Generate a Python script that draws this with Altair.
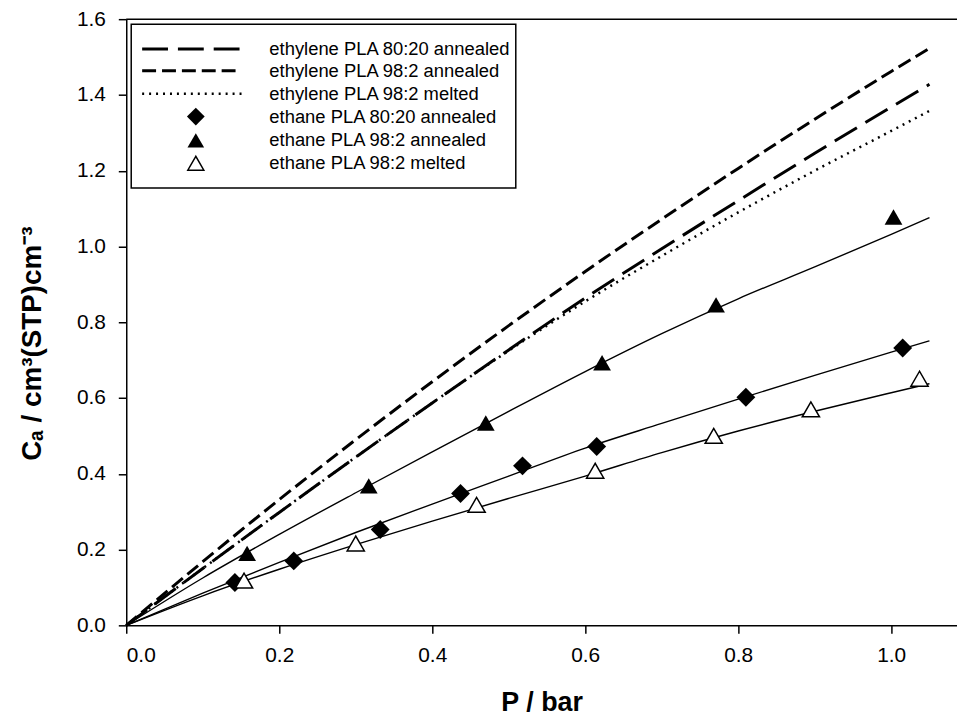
import altair as alt
import pandas as pd

FONT = "Liberation Sans"

# ---- data ----
# grid of pressures (bar) for the fitted / model curves
curve_p = [0.0, 0.1, 0.2, 0.3, 0.4, 0.5, 0.6, 0.7, 0.8, 0.9, 1.0, 1.05]

# ethylene model curves (no markers)
ethylene_80_20_annealed = [0.0, 0.150, 0.298, 0.444, 0.587, 0.727, 0.864, 0.994, 1.121, 1.246, 1.368, 1.428]
ethylene_98_2_annealed = [0.0, 0.168, 0.332, 0.490, 0.643, 0.791, 0.934, 1.072, 1.206, 1.336, 1.462, 1.523]
ethylene_98_2_melted = [0.0, 0.150, 0.298, 0.444, 0.587, 0.725, 0.855, 0.975, 1.090, 1.200, 1.305, 1.358]

# ethane fitted curves (solid thin lines)
fit_ethane_80_20_annealed = [0.0, 0.085, 0.166, 0.245, 0.320, 0.394, 0.468, 0.533, 0.597, 0.660, 0.721, 0.751]
fit_ethane_98_2_annealed = [0.0, 0.125, 0.240, 0.350, 0.458, 0.565, 0.670, 0.770, 0.862, 0.946, 1.032, 1.076]
fit_ethane_98_2_melted = [0.0, 0.078, 0.148, 0.213, 0.275, 0.335, 0.394, 0.456, 0.513, 0.565, 0.614, 0.638]

# ethane measured points
ethane_80_20_annealed_p = [0.142, 0.219, 0.332, 0.437, 0.518, 0.615, 0.810, 1.015]
ethane_80_20_annealed_c = [0.113, 0.170, 0.253, 0.348, 0.421, 0.472, 0.602, 0.732]
ethane_98_2_annealed_p = [0.158, 0.317, 0.470, 0.622, 0.771, 1.003]
ethane_98_2_annealed_c = [0.190, 0.368, 0.534, 0.693, 0.846, 1.078]
ethane_98_2_melted_p = [0.154, 0.300, 0.458, 0.613, 0.768, 0.895, 1.037]
ethane_98_2_melted_c = [0.118, 0.216, 0.318, 0.408, 0.500, 0.570, 0.651]

legend_labels = [
    "ethylene PLA 80:20 annealed",
    "ethylene PLA 98:2 annealed",
    "ethylene PLA 98:2 melted",
    "ethane PLA 80:20 annealed",
    "ethane PLA 98:2 annealed",
    "ethane PLA 98:2 melted",
]

x_ticks = [0.0, 0.2, 0.4, 0.6, 0.8, 1.0]
y_ticks = [0.0, 0.2, 0.4, 0.6, 0.8, 1.0, 1.2, 1.4, 1.6]

W, H = 836, 610

xs = alt.Scale(domain=[0, 1.086], nice=False, zero=False)
ys = alt.Scale(domain=[0, 1.6], nice=False)

X = alt.X("p:Q", scale=xs, title="P / bar",
          axis=alt.Axis(values=x_ticks, format=".1f", grid=False))
Y = alt.Y("c:Q", scale=ys, title="Cₐ / cm³(STP)cm⁻³",
          axis=alt.Axis(values=y_ticks, format=".1f", grid=False,
                        titleX=-86, titleY=326, titleAlign="center",
                        titleBaseline="alphabetic", titleAngle=270, titleFontSize=28))


def curve(vals):
    return pd.DataFrame({"p": curve_p, "c": vals})


def pts(p, c):
    return pd.DataFrame({"p": p, "c": c})


layers = []
# ethylene curves
layers.append(alt.Chart(curve(ethylene_80_20_annealed)).mark_line(
    color="black", strokeWidth=3, strokeDash=[26, 10], interpolate="monotone").encode(x=X, y=Y))
layers.append(alt.Chart(curve(ethylene_98_2_annealed)).mark_line(
    color="black", strokeWidth=3, strokeDash=[14, 6], interpolate="monotone").encode(x=X, y=Y))
layers.append(alt.Chart(curve(ethylene_98_2_melted)).mark_line(
    color="black", strokeWidth=2.5, strokeDash=[2, 5], interpolate="monotone").encode(x=X, y=Y))
# ethane fits
for vals in (fit_ethane_80_20_annealed, fit_ethane_98_2_annealed, fit_ethane_98_2_melted):
    layers.append(alt.Chart(curve(vals)).mark_line(
        color="black", strokeWidth=1.4, interpolate="monotone").encode(x=X, y=Y))
# ethane points
layers.append(alt.Chart(pts(ethane_80_20_annealed_p, ethane_80_20_annealed_c)).mark_point(
    shape="diamond", filled=True, color="black", size=360, opacity=1).encode(x=X, y=Y))
layers.append(alt.Chart(pts(ethane_98_2_annealed_p, ethane_98_2_annealed_c)).mark_point(
    shape="triangle-up", filled=True, color="black", size=320, opacity=1).encode(x=X, y=Y))
layers.append(alt.Chart(pts(ethane_98_2_melted_p, ethane_98_2_melted_c)).mark_point(
    shape="triangle-up", filled=True, fill="white", stroke="black", strokeWidth=1.5,
    size=300, opacity=1).encode(x=X, y=Y))

# top frame line
one = pd.DataFrame({"k": [0]})
layers.append(alt.Chart(one).mark_rule(color="black", strokeWidth=1.5).encode(y=alt.datum(1.6, scale=ys)))

# ---- legend box ----
layers.append(alt.Chart(one).mark_rect(fill="white", stroke="black", strokeWidth=1.5).encode(
    x=alt.value(5), x2=alt.value(392), y=alt.value(5), y2=alt.value(170)))
row_y = [30, 52, 75, 98, 122, 145]
dashes = [[26, 10], [14, 6], [2, 5]]
widths = [3, 3, 2.5]
for i in range(3):
    layers.append(alt.Chart(one).mark_rule(color="black", strokeWidth=widths[i], strokeDash=dashes[i]).encode(
        x=alt.value(16), x2=alt.value(116), y=alt.value(row_y[i])))
layers.append(alt.Chart(one).mark_point(shape="diamond", filled=True, color="black", size=320, opacity=1).encode(
    x=alt.value(70), y=alt.value(row_y[3])))
layers.append(alt.Chart(one).mark_point(shape="triangle-up", filled=True, color="black", size=280, opacity=1).encode(
    x=alt.value(70), y=alt.value(row_y[4])))
layers.append(alt.Chart(one).mark_point(shape="triangle-up", filled=True, fill="white", stroke="black",
                                        strokeWidth=1.5, size=260, opacity=1).encode(
    x=alt.value(70), y=alt.value(row_y[5])))
for i, lab in enumerate(legend_labels):
    layers.append(alt.Chart(one).mark_text(text=lab, align="left", baseline="middle", font=FONT,
                                           fontSize=18.5, color="black").encode(
        x=alt.value(144), y=alt.value(row_y[i])))

chart = alt.layer(*layers).properties(
    width=W, height=H,
    autosize=alt.AutoSizeParams(type="none"),
    padding={"left": 119, "top": 9, "right": 0, "bottom": 90},
).configure_view(stroke=None).configure_axis(
    domainColor="black", domainWidth=1.5, tickColor="black", tickWidth=1.5, tickSize=8,
    labelFont=FONT, labelFontSize=21, labelColor="black", labelPadding=11,
    titleFont=FONT, titleFontSize=27, titleFontWeight="bold", titleColor="black",
).configure_axisX(titlePadding=25).configure_axisY(labelPadding=13)

chart.save("out.html", embed_options={"renderer": "svg", "actions": False})
